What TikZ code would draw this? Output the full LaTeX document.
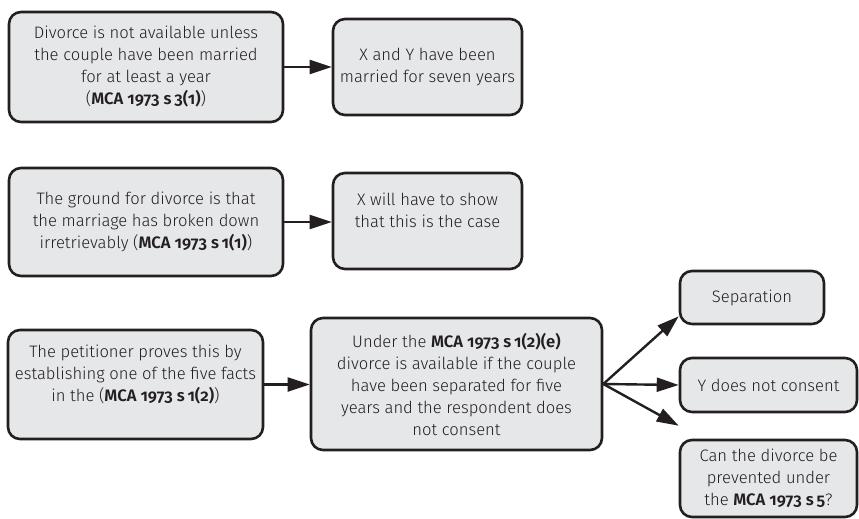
\documentclass[tikz,border=0pt]{standalone}
\usepackage{fontspec}
\setmainfont{Fira Sans Light}[BoldFont=Fira Sans SemiBold, RawFeature=+onum, BoldFeatures={RawFeature=+onum}]
\usetikzlibrary{arrows.meta,calc}
\definecolor{boxfill}{HTML}{E6E7E9}
\definecolor{ink}{HTML}{231F20}
\tikzset{
  box/.style={draw=ink, fill=boxfill, line width=2.6pt, rounded corners=12pt,
    align=center, inner sep=0pt, font=\fontsize{16.6}{22}\selectfont, text=ink},
  conn/.style={draw=ink, line width=2.4pt, -{Triangle[length=22pt,width=14pt]}},
}
\begin{document}
\begin{tikzpicture}[x=1pt,y=-1pt]
\useasboundingbox (0,0) rectangle (859,519);
\node[box, minimum width=274pt, minimum height=110pt] (b1) at (146,67)
  {Divorce is not available unless\\the couple have been married\\for at least a year\\(\textbf{MCA 1973 s\,3(1)})};
\node[box, minimum width=189pt, minimum height=96pt] (b2) at (427.5,67)
  {X and Y have been\\married for seven years};
\node[box, minimum width=274pt, minimum height=108pt] (b3) at (146,222)
  {The ground for divorce is that\\the marriage has broken down\\irretrievably (\textbf{MCA 1973 s\,1(1)})};
\node[box, minimum width=189pt, minimum height=96pt] (b4) at (427.5,221)
  {X will have to show\\that this is the case\\\mbox{}};
\node[box, minimum width=255pt, minimum height=109pt] (b5) at (135.5,384.5)
  {The petitioner proves this by\\establishing one of the five facts\\in the (\textbf{MCA 1973 s\,1(2)})\\\mbox{}};
\node[box, minimum width=291pt, minimum height=132pt] (b6) at (456.5,384)
  {Under the \textbf{MCA 1973 s\,1(2)(e)}\\divorce is available if the couple\\have been separated for five\\years and the respondent does\\not consent};
\node[box, minimum width=144pt, minimum height=53pt] (b7) at (752,297.5) {Separation};
\node[box, minimum width=177pt, minimum height=54pt] (b8) at (768.5,385) {Y does not consent};
\node[box, minimum width=177pt, minimum height=77pt] (b9) at (768.5,478.5)
  {Can the divorce be\\prevented under\\the \textbf{MCA 1973 s\,5}?};
\coordinate (fan) at (b6.east);
\draw[conn] (b1.east) -- (b2.west);
\draw[conn] (b3.east) -- (b4.west |- b3.east);
\draw[conn] (b5.east) -- (b6.west |- b5.east);
\draw[conn] (fan) -- ($(b7.south west)+(0,-9)$);
\draw[conn] (fan) -- (b8.west);
\draw[conn] (fan) -- ($(b9.north west)+(0,-13)$);
\end{tikzpicture}
\end{document}
